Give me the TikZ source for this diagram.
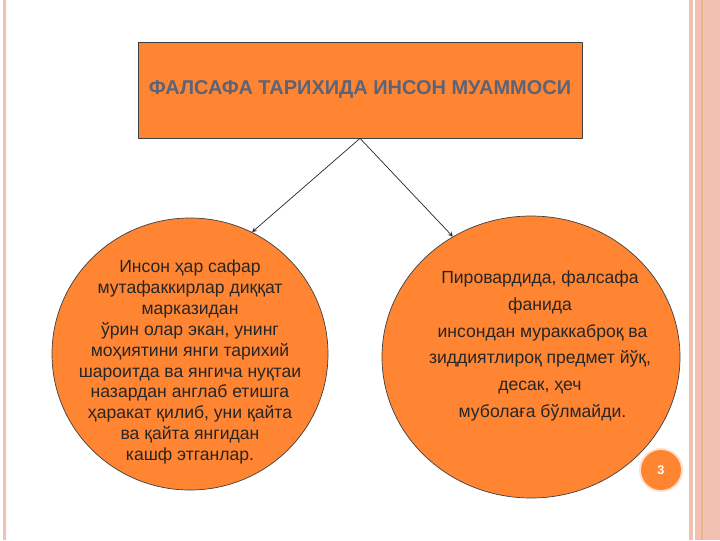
\documentclass[tikz,border=0pt]{standalone}
\usepackage{fontspec}
\setmainfont{Liberation Sans}
\usetikzlibrary{shapes.geometric}
\definecolor{slideorange}{HTML}{FF8533}
\definecolor{titlegray}{HTML}{5A6378}
\definecolor{stripepink}{HTML}{F3C1B2}
\definecolor{stripetan}{HTML}{E9B490}
\begin{document}
\begin{tikzpicture}[x=0.025cm,y=-0.025cm,>=stealth, line join=round,
	box/.style={draw=black!75, fill=slideorange, line width=0.5pt},
	bubble/.style={box, ellipse, inner sep=0pt},
	bubbletext/.style={align=center, text=black!85, inner sep=0pt}]
	\def\u{0.025cm}
	\useasboundingbox (0,0) rectangle (720,540);
	
	% hoshiya chiziqlari
	\fill[stripepink] (3,0) rectangle (5.5,540);
	\fill[stripepink] (689,0) rectangle (692.5,540);
	\fill[stripepink] (695,0) rectangle (701,540);
	\fill[stripetan] (701,0) rectangle (703,540);
	\fill[stripepink] (703,0) rectangle (720,540);
	
	\node[box, minimum width=444*\u, minimum height=96*\u, text=titlegray,
		font=\bfseries\fontsize{14.2}{16}\selectfont] (title) at (360,90)
		{ФАЛСАФА ТАРИХИДА ИНСОН МУАММОСИ};
	
	\node[bubble, minimum width=276*\u, minimum height=272*\u] (left) at (190,354) {};
	\node[bubble, minimum width=298*\u, minimum height=282*\u] (right) at (531,357) {};
	
	\node[bubbletext, font=\fontsize{12.5}{14.9}\selectfont] (lefttext) at (190,362)
		{Инсон ҳар сафар\\ мутафаккирлар диққат\\ марказидан\\ ўрин олар экан, унинг\\
		моҳиятини янги тарихий\\ шароитда ва янгича нуқтаи\\ назардан англаб етишга\\
		ҳаракат қилиб, уни қайта\\ ва қайта янгидан\\ кашф этганлар.};
	\node[bubbletext, font=\fontsize{12.5}{19.1}\selectfont] (righttext) at (540,346)
		{Пировардида, фалсафа\\ фанида\\ \ инсондан мураккаброқ ва\\
		зиддиятлироқ предмет йўқ,\\ десак, ҳеч\\ \ муболаға бўлмайди.};
	
	\draw[->, black!85, line width=0.5pt] (title.south) -- (left.63);
	\draw[->, black!85, line width=0.5pt] (title.south) -- (right.123);
	
	\fill[slideorange!25] (661,470) circle (22);
	\node[circle, fill=slideorange, minimum size=40*\u, inner sep=0pt, text=white,
		font=\bfseries\fontsize{9}{10}\selectfont] (pagenum) at (661,470) {3};
\end{tikzpicture}
\end{document}
